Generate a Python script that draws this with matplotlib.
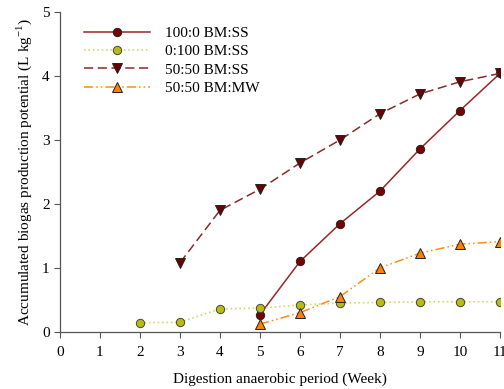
import numpy as np
import matplotlib
matplotlib.use('Agg')
import matplotlib.pyplot as plt

plt.rcParams['font.family'] = ['Liberation Serif', 'DejaVu Serif']
plt.rcParams['mathtext.fontset'] = 'custom'
plt.rcParams['mathtext.rm'] = 'Liberation Serif'

# semanas
wk_a = [5, 6, 7, 8, 9, 10, 11]
bm_ss_100 = [0.27, 1.10, 1.69, 2.20, 2.86, 3.46, 4.04]

wk_b = [2, 3, 4, 5, 6, 7, 8, 9, 10, 11]
bm_ss_0 = [0.14, 0.15, 0.36, 0.37, 0.42, 0.45, 0.46, 0.47, 0.47, 0.47]

wk_c = [3, 4, 5, 6, 7, 8, 9, 10, 11]
bm_ss_50 = [1.08, 1.90, 2.23, 2.64, 3.00, 3.41, 3.72, 3.91, 4.04]

wk_d = [5, 6, 7, 8, 9, 10, 11]
bm_mw_50 = [0.12, 0.30, 0.55, 1.00, 1.23, 1.37, 1.41]

labels = ['100:0 BM:SS', '0:100 BM:SS', '50:50 BM:SS', '50:50 BM:MW']

fig = plt.figure(figsize=(5.04, 3.89), dpi=100)
ax = fig.add_axes([0.119, 0.147, 0.873, 0.822])

ax.plot(wk_a, bm_ss_100, '-', color='#9b2626', lw=1.1, marker='o', ms=6,
        mfc='#7a0000', mec='#222222', mew=0.7, label=labels[0])
ax.plot(wk_b, bm_ss_0, ':', color='#d2d86a', lw=1.2, marker='o', ms=6,
        mfc='#b8bc10', mec='#444444', mew=0.7, label=labels[1])
ax.plot(wk_c, bm_ss_50, '--', color='#8b2a2a', lw=1.1, dashes=(6, 3), marker='v', ms=6.5,
        mfc='#6a0000', mec='#222222', mew=0.7, label=labels[2])
ax.plot(wk_d, bm_mw_50, '-.', color='#ff8c1a', lw=1.1, dashes=(6, 2, 1, 2, 1, 2), marker='^', ms=6.5,
        mfc='#ff7f00', mec='#222222', mew=0.7, label=labels[3])

ax.set_xlim(0, 11)
ax.set_ylim(0, 5)
ax.set_xticks(range(0, 12))
ax.set_yticks(range(0, 6))
for s in ['top', 'right']:
    ax.spines[s].set_visible(False)
for s in ['left', 'bottom']:
    ax.spines[s].set_color('#555555')
    ax.spines[s].set_linewidth(0.9)
ax.tick_params(axis='both', labelsize=11, color='#555555', length=4, width=0.8)
ax.tick_params(axis='x', pad=6)

ax.set_xlabel('Digestion anaerobic period (Week)', fontsize=11, labelpad=10)
ax.set_ylabel(r'Accumulated biogas production potential (L kg$^{-1}$)', fontsize=11, labelpad=6)

ax.legend(loc='upper left', bbox_to_anchor=(0.024, 0.998), frameon=False, fontsize=11,
          handlelength=4.3, handletextpad=1.0, labelspacing=0.3)

fig.savefig('out.png', dpi=100)
